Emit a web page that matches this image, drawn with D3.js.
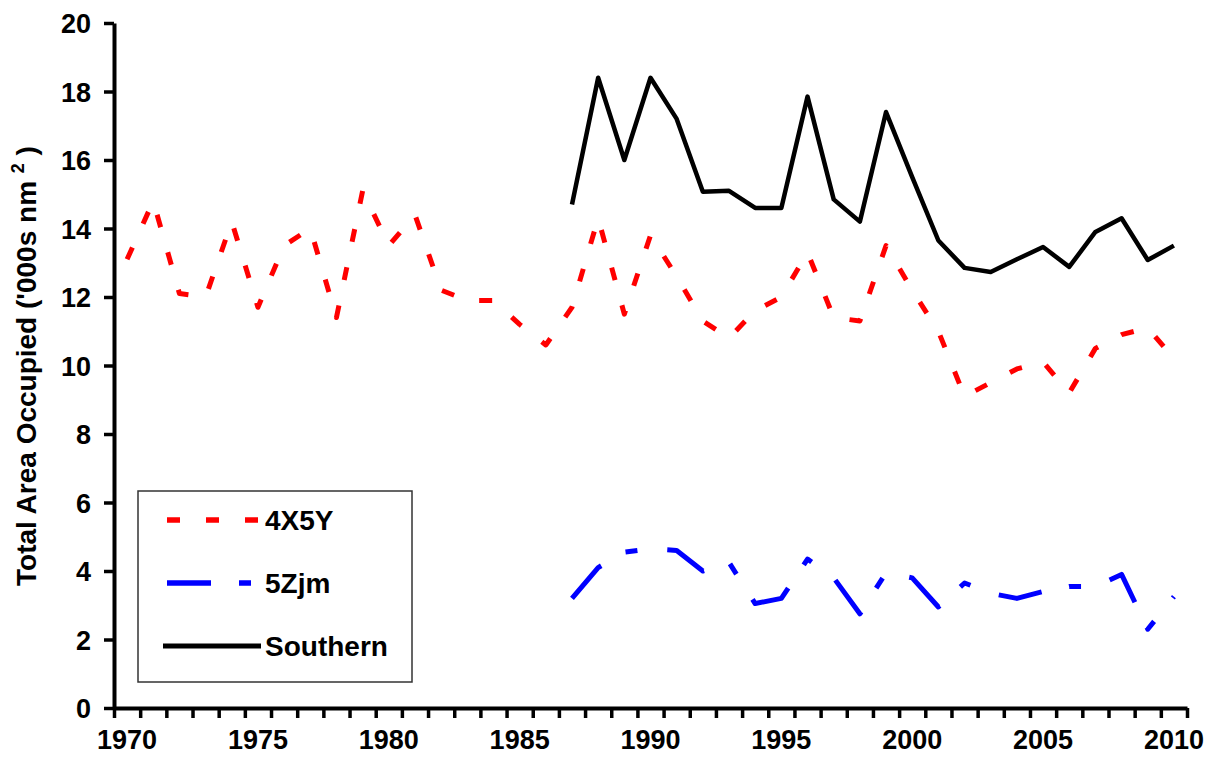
<!DOCTYPE html>
<html>
<head>
<meta charset="utf-8">
<script src="https://cdn.jsdelivr.net/npm/d3@7"></script>
<style>
  body { margin: 0; background: #fff; }
  svg { display: block; }
  text { font-family: "Liberation Sans", Arial, sans-serif; font-weight: bold; fill: #000; }
</style>
</head>
<body>
<div id="chart"></div>
<script>
// years on the category axis
var years = d3.range(1970, 2011);
var labelYears = [1970, 1975, 1980, 1985, 1990, 1995, 2000, 2005, 2010];
var yTicks = [0, 2, 4, 6, 8, 10, 12, 14, 16, 18, 20];

// 4X5Y, 1970-2010
var red4x5y = [13.1, 14.8, 12.1, 12.0, 14.2, 11.7, 13.5, 14.0, 11.4, 15.1,
               13.5, 14.4, 12.2, 11.9, 11.9, 11.2, 10.6, 11.7, 14.3, 11.5,
               13.8, 12.6, 11.3, 10.8, 11.6, 12.0, 13.3, 11.4, 11.3, 13.5,
               12.2, 11.0, 9.1, 9.5, 9.9, 10.1, 9.2, 10.5, 10.9, 11.1, 10.2];
// 5Zjm and Southern, 1987-2010
var shortYears = d3.range(1987, 2011);
var blue5zjm = [3.2, 4.1, 4.55, 4.65, 4.6, 4.0, 4.25, 3.05, 3.2, 4.35,
                3.8, 2.75, 3.95, 3.8, 2.95, 3.65, 3.35, 3.2, 3.4, 3.55,
                3.55, 3.9, 2.3, 3.25];
var southern = [14.7, 18.4, 16.0, 18.4, 17.2, 15.07, 15.1, 14.6, 14.6, 17.85,
                14.85, 14.2, 17.4, 15.5, 13.65, 12.85, 12.73, 13.1, 13.46, 12.88,
                13.9, 14.3, 13.08, 13.5];

var width = 1216, height = 768;
var plotLeft = 114, plotRight = 1187, plotTop = 23, plotBottom = 708;

var svg = d3.select("#chart").append("svg")
    .attr("width", width)
    .attr("height", height);

//scales
var x = d3.scaleBand().domain(years).range([plotLeft, plotRight]).padding(0);
var xEdge = d3.scaleLinear().domain([1970, 2011]).range([plotLeft, plotRight]);
var y = d3.scaleLinear().domain([0, 20]).range([plotBottom, plotTop]);
function xc(yr){ return x(yr) + x.bandwidth() / 2; }

//series
var series = [
  {name: "4X5Y", yrs: years, vals: red4x5y, color: "#ff0000", dash: "13,26", w: 5},
  {name: "5Zjm", yrs: shortYears, vals: blue5zjm, color: "#0000ff", dash: "44,28,12,30", w: 5},
  {name: "Southern", yrs: shortYears, vals: southern, color: "#000", dash: null, w: 4.5}
];

var line = d3.line()
    .x(function(d){ return xc(d.yr); })
    .y(function(d){ return y(d.v); });

series.forEach(function(s){
  var pts = s.yrs.map(function(yr, i){ return {yr: yr, v: s.vals[i]}; });
  svg.append("path")
      .attr("d", line(pts))
      .attr("fill", "none")
      .attr("stroke", s.color)
      .attr("stroke-width", s.w)
      .attr("stroke-dasharray", s.dash)
      .attr("stroke-linejoin", "round");
});

//axes
var yAxis = svg.append("g")
    .attr("transform", "translate(" + plotLeft + ",0)")
    .call(d3.axisLeft(y).tickValues(yTicks).tickSize(10).tickSizeOuter(0).tickPadding(13));
yAxis.select(".domain").attr("stroke-width", 4).attr("stroke", "#000");
yAxis.selectAll(".tick line").attr("stroke-width", 3.5);
yAxis.selectAll("text").style("font-size", "27px").attr("dy", "0.36em");

var xTicks = svg.append("g")
    .attr("transform", "translate(0," + plotBottom + ")")
    .call(d3.axisBottom(xEdge).tickValues(d3.range(1970, 2012)).tickFormat("").tickSize(10).tickSizeOuter(0));
xTicks.select(".domain").attr("stroke-width", 4).attr("stroke", "#000");
xTicks.selectAll(".tick line").attr("stroke-width", 3.5);

var xLabels = svg.append("g")
    .attr("transform", "translate(0," + plotBottom + ")")
    .call(d3.axisBottom(x).tickValues(labelYears).tickSize(0).tickPadding(30));
xLabels.select(".domain").remove();
xLabels.selectAll("text").style("font-size", "27px").attr("dy", "0.4em");

//axis title
var title = svg.append("text")
    .attr("transform", "translate(36,366) rotate(-90)")
    .attr("text-anchor", "middle")
    .style("font-size", "28px");
title.append("tspan").text("Total Area Occupied ('000s nm ");
title.append("tspan").text("2").style("font-size", "18px").attr("dy", "-12");
title.append("tspan").text(" )").attr("dy", "12");

//legend
var leg = svg.append("g");
leg.append("rect")
    .attr("x", 138).attr("y", 491)
    .attr("width", 274).attr("height", 191)
    .attr("fill", "#fff")
    .attr("stroke", "#333")
    .attr("stroke-width", 1.5);

var legRows = [
  {s: series[0], y: 520, x1: 167, x2: 258},
  {s: series[1], y: 583, x1: 167, x2: 253},
  {s: series[2], y: 646, x1: 163, x2: 261}
];
legRows.forEach(function(r){
  leg.append("line")
      .attr("x1", r.x1).attr("x2", r.x2)
      .attr("y1", r.y).attr("y2", r.y)
      .attr("stroke", r.s.color)
      .attr("stroke-width", r.s.w + 0.5)
      .attr("stroke-dasharray", r.s.dash);
  leg.append("text")
      .attr("x", 265).attr("y", r.y + 10)
      .style("font-size", "28px")
      .text(r.s.name);
});
</script>
</body>
</html>
